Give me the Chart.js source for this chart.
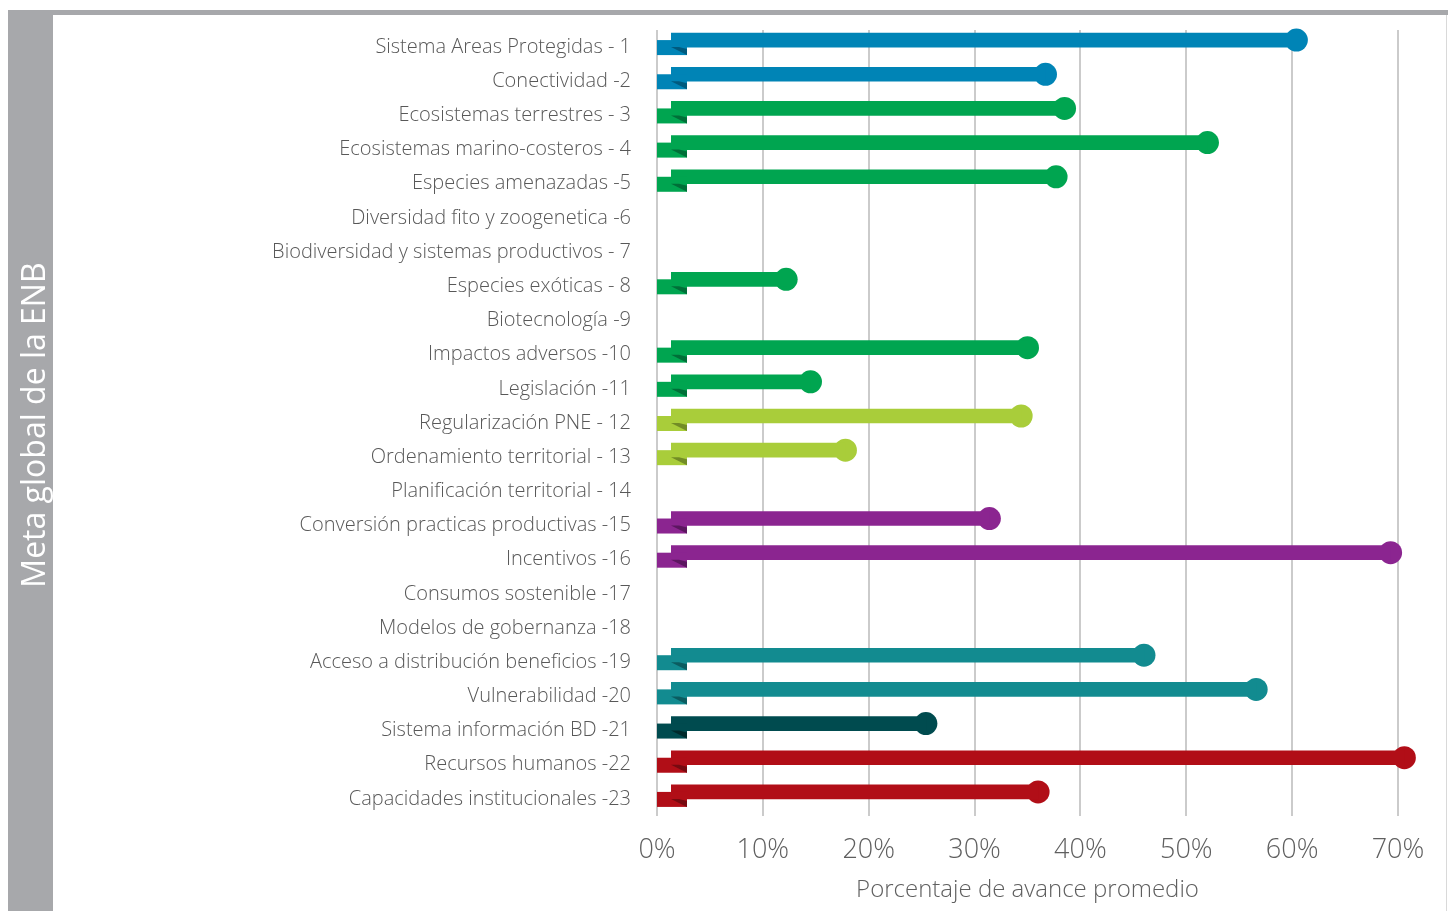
<!DOCTYPE html>
<html lang="es">
<head>
<meta charset="utf-8">
<title>Avance promedio por meta de la ENB</title>
<script src="https://cdn.jsdelivr.net/npm/chart.js@4.4.1/dist/chart.umd.min.js"></script>
<style>
  html, body { margin: 0; padding: 0; background: #fff; }
  #wrap { position: relative; width: 1448px; height: 911px; overflow: hidden; }
  #chartBox { position: absolute; left: 0; top: 0; width: 1448px; height: 911px; }
  .band-left { position: absolute; left: 8px; top: 10px; width: 45px; height: 901px; background: #a7a8ab; }
  .band-top { position: absolute; left: 8px; top: 10px; width: 1440px; height: 5px; background: #a7a8ab; }
  .edge-right { position: absolute; left: 1446px; top: 15px; width: 1px; height: 896px; background: #d9d9d9; }
  .side-title {
    position: absolute; left: 32px; top: 425px;
    transform: translate(-50%, -50%) rotate(-90deg);
    color: #fff; font: 400 32px "Open Sans", sans-serif; white-space: nowrap;
  }
</style>
</head>
<body>
<div id="wrap">
  <div id="chartBox"><canvas id="avanceChart"></canvas></div>
  <div class="band-top"></div>
  <div class="band-left"></div>
  <div class="edge-right"></div>
  <div class="side-title">Meta global de la ENB</div>
</div>
<script>
// --- data ---
const categories = [
  'Sistema Areas Protegidas - 1',
  'Conectividad -2',
  'Ecosistemas terrestres - 3',
  'Ecosistemas marino-costeros - 4',
  'Especies amenazadas -5',
  'Diversidad fito y zoogenetica -6',
  'Biodiversidad y sistemas productivos - 7',
  'Especies exóticas - 8',
  'Biotecnología -9',
  'Impactos adversos -10',
  'Legislación -11',
  'Regularización PNE - 12',
  'Ordenamiento territorial - 13',
  'Planificación territorial - 14',
  'Conversión practicas productivas -15',
  'Incentivos -16',
  'Consumos sostenible -17',
  'Modelos de gobernanza -18',
  'Acceso a distribución beneficios -19',
  'Vulnerabilidad -20',
  'Sistema información BD -21',
  'Recursos humanos -22',
  'Capacidades institucionales -23'
];

// percentage of average progress (null = no bar)
const avance = [
  60.4, 36.7, 38.5, 52.0, 37.7, null, null, 12.2, null, 35.0, 14.5, 34.4,
  17.8, null, 31.4, 69.3, null, null, 46.0, 56.6, 25.4, 70.6, 36.0
];

const xTicks = [0, 10, 20, 30, 40, 50, 60, 70];

// --- styles ---
const BLUE = '#0084b6', GREEN = '#00a550', LIME = '#a9cd3a', PURPLE = '#8b2590',
      TEAL = '#128b90', DTEAL = '#004b4f', RED = '#b10e17';
const FOLD = {};
FOLD[BLUE] = '#005a7e'; FOLD[GREEN] = '#006f38'; FOLD[LIME] = '#728c26';
FOLD[PURPLE] = '#5c1660'; FOLD[TEAL] = '#0b5c60'; FOLD[DTEAL] = '#002a2c';
FOLD[RED] = '#760a10';

const barColors = [
  BLUE, BLUE, GREEN, GREEN, GREEN, GREEN, GREEN, GREEN, GREEN, GREEN, GREEN,
  LIME, LIME, LIME, PURPLE, PURPLE, PURPLE, PURPLE, TEAL, TEAL, DTEAL, RED, RED
];

const FONT = '"Open Sans", sans-serif';
const LIFT = 7;       // main bar sits above the category centre
const STUB = 30;      // width of the folded start piece

// draws the small folded piece at the start of each ribbon
function drawStubs(chart) {
  const ctx = chart.ctx;
  const xs = chart.scales.x, ys = chart.scales.y;
  const x0 = xs.getPixelForValue(0);
  avance.forEach((v, i) => {
    if (v === null) return;
    const yc = ys.getPixelForValue(i);
    ctx.fillStyle = barColors[i];
    ctx.fillRect(x0, yc - LIFT, STUB, 15);
    ctx.fillStyle = FOLD[barColors[i]];
    ctx.beginPath();
    ctx.moveTo(x0 + 14, yc);
    ctx.lineTo(x0 + 22, yc);
    ctx.lineTo(x0 + STUB, yc + 2);
    ctx.lineTo(x0 + STUB, yc + 8);
    ctx.closePath();
    ctx.fill();
  });
}

const ribbonPlugin = {
  id: 'ribbon',
  beforeDatasetDraw(chart, args) {
    const { ctx, chartArea } = chart;
    ctx.save();
    if (args.index === 0) {
      ctx.beginPath();
      ctx.rect(chartArea.left + 14, 0, chart.width, chart.height);
      ctx.clip();
    }
    ctx.translate(0, -LIFT);
  },
  afterDatasetDraw(chart, args) {
    chart.ctx.restore();
    if (args.index === 0) drawStubs(chart);
  }
};

new Chart(document.getElementById('avanceChart'), {
  type: 'bar',
  data: {
    labels: categories,
    datasets: [
      {
        type: 'bar',
        data: avance,
        backgroundColor: barColors,
        borderWidth: 0,
        barThickness: 14,
        clip: false
      },
      {
        type: 'line',
        indexAxis: 'y',
        data: avance,
        showLine: false,
        pointRadius: 11.5,
        pointHoverRadius: 11.5,
        pointBorderWidth: 0,
        pointBackgroundColor: barColors,
        clip: false
      }
    ]
  },
  options: {
    indexAxis: 'y',
    responsive: true,
    maintainAspectRatio: false,
    animation: false,
    events: [],
    layout: { padding: { left: 0, right: 50, top: 30, bottom: 0 } },
    plugins: {
      legend: { display: false },
      tooltip: { enabled: false }
    },
    scales: {
      x: {
        type: 'linear',
        min: 0,
        max: 70,
        afterFit: s => { s.height = 95; },
        afterBuildTicks: s => { s.ticks = xTicks.map(v => ({ value: v })); },
        ticks: {
          callback: v => v + '%',
          color: '#5f5f5f',
          font: { family: FONT, size: 27, weight: '300' },
          padding: 18
        },
        grid: { color: '#cbcbcb', lineWidth: 2, drawTicks: false },
        border: { display: false },
        title: {
          display: true,
          text: 'Porcentaje de avance promedio',
          color: '#5f5f5f',
          font: { family: FONT, size: 24, weight: '300' },
          padding: { top: 0, bottom: 6 }
        }
      },
      y: {
        type: 'category',
        afterFit: s => {
          s.width = 657;
          // keep the tick padding from pushing the plot area down
          s.paddingTop = 0;
          s.paddingBottom = 0;
        },
        ticks: {
          autoSkip: false,
          color: '#585858',
          font: { family: FONT, size: 20, weight: '300' },
          padding: 26
        },
        grid: { display: false, drawTicks: false },
        border: { display: false }
      }
    }
  },
  plugins: [ribbonPlugin]
});
</script>
</body>
</html>
